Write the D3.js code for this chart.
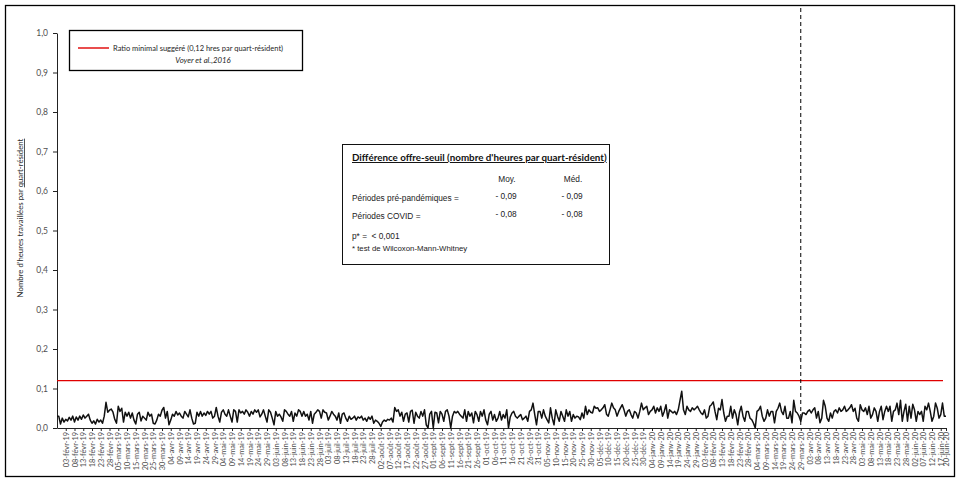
<!DOCTYPE html>
<html>
<head>
<meta charset="utf-8">
<script src="https://cdn.jsdelivr.net/npm/d3@7"></script>
<style>
  body { margin: 0; background: #fff; }
  svg { display: block; }
</style>
</head>
<body>
<svg id="chart" width="959" height="480"></svg>
<script>
// ---- Data ----------------------------------------------------------------
const firstDay = "2019-01-29";          // first daily observation
const covidStartDay = "2020-03-29";     // start of the COVID period (dashed marker)
const firstLabelDay = "2019-02-03";     // first labelled date on the x axis
const labelEveryDays = 5;
const yTickValues = [0, 0.1, 0.2, 0.3, 0.4, 0.5, 0.6, 0.7, 0.8, 0.9, 1.0];
const minimalRatio = 0.12;              // suggested minimum (hours per shift-resident)

// Daily hours worked per shift-resident, pre-pandemic period (29-janv-19 .. 28-mars-20)
const preValues = [
  0.030,
  0.030, 0.010, 0.025, 0.015, 0.022, 0.018, 0.027, 0.020, 0.030, 0.015,
  0.028, 0.020, 0.030, 0.022, 0.033, 0.025, 0.030, 0.035, 0.020, 0.012,
  0.018, 0.010, 0.022, 0.015, 0.020, 0.012, 0.030, 0.065, 0.040, 0.045,
  0.048, 0.040, 0.022, 0.012, 0.055, 0.042, 0.050, 0.015, 0.040, 0.030,
  0.040, 0.025, 0.038, 0.020, 0.010, 0.035, 0.040, 0.018, 0.030, 0.025,
  0.020, 0.040, 0.030, 0.035, 0.012, 0.010, 0.020, 0.035, 0.030, 0.045, 0.052,
  0.025, 0.042, 0.008, 0.020, 0.035, 0.030, 0.042, 0.033, 0.038, 0.030,
  0.025, 0.042, 0.035, 0.028, 0.046, 0.025, 0.010, 0.012, 0.040, 0.030,
  0.042, 0.030, 0.038, 0.032, 0.042, 0.035, 0.042, 0.025, 0.030, 0.052,
  0.030, 0.015, 0.040, 0.046, 0.035, 0.030, 0.046, 0.030, 0.015, 0.046,
  0.042, 0.015, 0.046, 0.038, 0.042, 0.035, 0.046, 0.040, 0.030, 0.042,
  0.035, 0.046, 0.040, 0.046, 0.028, 0.035, 0.046, 0.030, 0.015, 0.046,
  0.040, 0.025, 0.008, 0.042, 0.030, 0.035, 0.028, 0.017, 0.046, 0.042,
  0.035, 0.030, 0.042, 0.017, 0.038, 0.030, 0.046, 0.042, 0.030, 0.042,
  0.030, 0.035, 0.020, 0.042, 0.012, 0.035, 0.040, 0.046, 0.042, 0.025,
  0.046, 0.040, 0.038, 0.020, 0.030, 0.042, 0.035, 0.030, 0.020, 0.038,
  0.012, 0.035, 0.038, 0.025, 0.017, 0.030, 0.022, 0.025, 0.030, 0.020, 0.028,
  0.025, 0.030, 0.020, 0.025, 0.017, 0.028, 0.022, 0.030, 0.012, 0.020,
  0.017, 0.012, 0.004, 0.015, 0.020, 0.017, 0.022, 0.020, 0.025, 0.015,
  0.052, 0.042, 0.046, 0.030, 0.040, 0.017, 0.035, 0.038, 0.015, 0.042,
  0.045, 0.012, 0.040, 0.030, 0.025, 0.042, 0.030, 0.046, 0.008, 0.000,
  0.035, 0.042, 0.000, 0.040, 0.038, 0.013, 0.042, 0.035, 0.017, 0.042,
  0.046, 0.030, 0.000, 0.030, 0.042, 0.038, 0.042, 0.035, 0.030, 0.025,
  0.046, 0.017, 0.042, 0.030, 0.038, 0.013, 0.042, 0.034, 0.017, 0.042,
  0.030, 0.046, 0.020, 0.008, 0.035, 0.042, 0.020, 0.034, 0.017, 0.025,
  0.042, 0.020, 0.034, 0.025, 0.046, 0.000, 0.028, 0.038, 0.042, 0.030,
  0.025, 0.030, 0.034, 0.021, 0.025, 0.030, 0.017, 0.042, 0.046, 0.063,
  0.034, 0.008, 0.042, 0.042, 0.025, 0.046, 0.030, 0.021, 0.013, 0.051, 0.025,
  0.008, 0.046, 0.030, 0.017, 0.042, 0.030, 0.017, 0.046, 0.030, 0.042,
  0.017, 0.034, 0.025, 0.030, 0.028, 0.021, 0.038, 0.025, 0.055, 0.034,
  0.046, 0.040, 0.038, 0.055, 0.050, 0.051, 0.042, 0.046, 0.051, 0.059,
  0.035, 0.030, 0.046, 0.063, 0.051, 0.046, 0.030, 0.042, 0.051, 0.059,
  0.046, 0.030, 0.042, 0.046, 0.034, 0.025, 0.042, 0.038, 0.025, 0.042,
  0.063, 0.046, 0.051, 0.055, 0.034, 0.042, 0.046, 0.055, 0.038, 0.051,
  0.042, 0.055, 0.030, 0.042, 0.059, 0.025, 0.046, 0.042, 0.038, 0.042,
  0.034, 0.046, 0.070, 0.093, 0.046, 0.034, 0.055, 0.046, 0.042, 0.051,
  0.046, 0.050, 0.055, 0.046, 0.038, 0.034, 0.046, 0.025, 0.030, 0.055,
  0.059, 0.066, 0.042, 0.021, 0.050, 0.046, 0.072, 0.038, 0.017, 0.030,
  0.030, 0.055, 0.025, 0.046, 0.034, 0.008, 0.040, 0.055, 0.030, 0.017, 0.042,
  0.042, 0.025, 0.021, 0.012, 0.000, 0.042, 0.046, 0.055, 0.030, 0.017,
  0.025, 0.046, 0.030, 0.042, 0.042, 0.013, 0.042, 0.050, 0.063, 0.042,
  0.034, 0.055, 0.025, 0.025, 0.042, 0.013, 0.070, 0.042, 0.038, 0.030
];

// Daily hours worked per shift-resident, COVID period (29-mars-20 .. 20-juin-20)
const covidValues = [
  0.017, 0.038, 0.038, 0.034, 0.042, 0.046, 0.038, 0.046, 0.051, 0.025,
  0.042, 0.013, 0.025, 0.070, 0.055, 0.025, 0.017, 0.038, 0.025, 0.042,
  0.046, 0.038, 0.051, 0.042, 0.046, 0.055, 0.042, 0.046, 0.051, 0.059,
  0.042, 0.050, 0.025, 0.017, 0.059, 0.046, 0.042, 0.051, 0.034, 0.055,
  0.025, 0.034, 0.051, 0.042, 0.017, 0.042, 0.055, 0.021, 0.042, 0.055,
  0.042, 0.055, 0.017, 0.042, 0.046, 0.063, 0.034, 0.070, 0.017, 0.042,
  0.060, 0.017, 0.055, 0.025, 0.060, 0.046, 0.017, 0.042, 0.034, 0.042,
  0.017, 0.055, 0.046, 0.063, 0.042, 0.017, 0.030, 0.063, 0.050, 0.025,
  0.034, 0.063, 0.030, 0.030
];

const legendLines = ["Ratio minimal suggéré (0,12 hres par quart-résident)", "Voyer et al.,2016"];
const statsTitle = "Différence offre-seuil (nombre d'heures par quart-résident)";
const statsHeaders = ["Moy.", "Méd."];
const statsRows = [
  ["Périodes pré-pandémiques =", "- 0,09", "- 0,09"],
  ["Périodes COVID =", "- 0,08", "- 0,08"]
];
const statsNotes = ["p* =\u00a0\u00a0< 0,001", "* test de Wilcoxon-Mann-Whitney"];
const yTitle = ["Nombre d'heures travaillées par ", "quart-résident"];

// ---- Setup -----------------------------------------------------------------
const fr = d3.timeFormatLocale({
  dateTime: "%A %e %B %Y à %X", date: "%d/%m/%Y", time: "%H:%M:%S",
  periods: ["AM", "PM"],
  days: ["dimanche","lundi","mardi","mercredi","jeudi","vendredi","samedi"],
  shortDays: ["dim","lun","mar","mer","jeu","ven","sam"],
  months: ["janvier","février","mars","avril","mai","juin","juillet","août","septembre","octobre","novembre","décembre"],
  shortMonths: ["janv","févr","mars","avr","mai","juin","juil","août","sept","oct","nov","déc"]
});
const fmtDay = fr.utcFormat("%d-%b-%y");
const parseDay = d3.utcParse("%Y-%m-%d");

const allValues = preValues.concat(covidValues);
const start = parseDay(firstDay);
const series = allValues.map((v, i) => ({ date: d3.utcDay.offset(start, i), value: v }));
const lastDate = series[series.length - 1].date;

const labelDates = d3.utcDay.every(1).range(parseDay(firstLabelDay), d3.utcDay.offset(lastDate, 1))
  .filter((d, i) => i % labelEveryDays === 0);
if (+labelDates[labelDates.length - 1] !== +lastDate) labelDates.push(lastDate);

const svg = d3.select("#chart");
const plot = { left: 57, right: 946, top: 33, bottom: 428 };

const x = d3.scaleUtc().domain([start, lastDate]).range([plot.left, plot.right]);
const y = d3.scaleLinear().domain([0, 1]).range([plot.bottom, plot.top]);

const labelFont = "Lato, 'Open Sans', sans-serif";
const boxFont = "'Liberation Sans', Arial, sans-serif";

// outer frame
svg.append("rect")
  .attr("x", 5.5).attr("y", 5.5).attr("width", 949).attr("height", 471)
  .attr("fill", "none").attr("stroke", "#000").attr("stroke-width", 1.3);

// ---- Axes ------------------------------------------------------------------
const yAxis = svg.append("g")
  .attr("transform", `translate(${plot.left},0)`)
  .call(d3.axisLeft(y).tickValues(yTickValues).tickSize(4).tickSizeOuter(0).tickPadding(5)
    .tickFormat(d => d3.format(".1f")(d).replace(".", ",")));
yAxis.select(".domain").attr("stroke", "#222").attr("stroke-width", 1);
yAxis.selectAll(".tick line").attr("stroke", "#222");
yAxis.selectAll("text").attr("font-family", labelFont).attr("font-size", 8.5).attr("fill", "#505050");

const xAxis = svg.append("g")
  .attr("transform", `translate(0,${plot.bottom})`)
  .call(d3.axisBottom(x).tickValues(labelDates).tickSize(3).tickSizeOuter(0).tickFormat(fmtDay));
xAxis.select(".domain").attr("stroke", "#222").attr("stroke-width", 1);
xAxis.selectAll(".tick line").attr("stroke", "#222");
xAxis.selectAll("text")
  .attr("font-family", labelFont).attr("font-size", 7.4).attr("fill", "#505050")
  .attr("transform", "rotate(-90)")
  .attr("text-anchor", "end")
  .attr("x", -4).attr("y", 0).attr("dy", "0.35em");

// y axis title
const yt = svg.append("text")
  .attr("transform", "translate(23,218) rotate(-90)")
  .attr("text-anchor", "middle")
  .attr("font-family", labelFont).attr("font-size", 7.8).attr("fill", "#262626");
yt.append("tspan").text(yTitle[0]);
yt.append("tspan").attr("text-decoration", "underline").text(yTitle[1]);

// ---- Marks -----------------------------------------------------------------
svg.append("line")
  .attr("x1", plot.left).attr("x2", 943)
  .attr("y1", y(minimalRatio)).attr("y2", y(minimalRatio))
  .attr("stroke", "#e00000").attr("stroke-width", 1.4);

svg.append("line")
  .attr("x1", x(parseDay(covidStartDay))).attr("x2", x(parseDay(covidStartDay)))
  .attr("y1", 8).attr("y2", plot.bottom)
  .attr("stroke", "#000").attr("stroke-width", 1).attr("stroke-dasharray", "4,3");

svg.append("path")
  .datum(series)
  .attr("fill", "none").attr("stroke", "#111").attr("stroke-width", 1.5)
  .attr("stroke-linejoin", "round")
  .attr("d", d3.line().x(d => x(d.date)).y(d => y(d.value)));

// ---- Legend box ------------------------------------------------------------
svg.append("rect").attr("x", 69.5).attr("y", 30.5).attr("width", 233).attr("height", 40)
  .attr("fill", "#fff").attr("stroke", "#000").attr("stroke-width", 1.3);
svg.append("line").attr("x1", 78).attr("x2", 109).attr("y1", 48).attr("y2", 48)
  .attr("stroke", "#e00000").attr("stroke-width", 1.4);
svg.append("text").attr("x", 113).attr("y", 51)
  .attr("font-family", labelFont).attr("font-size", 7.5).attr("fill", "#262626")
  .text(legendLines[0]);
svg.append("text").attr("x", 203).attr("y", 63).attr("text-anchor", "middle")
  .attr("font-family", labelFont).attr("font-size", 7.8).attr("font-style", "italic").attr("fill", "#262626")
  .text(legendLines[1]);

// ---- Statistics box --------------------------------------------------------
const sb = svg.append("g");
sb.append("rect").attr("x", 342.5).attr("y", 144.5).attr("width", 267).attr("height", 120)
  .attr("fill", "#fff").attr("stroke", "#111").attr("stroke-width", 1);
sb.append("text").attr("x", 352).attr("y", 161)
  .attr("font-family", labelFont).attr("font-size", 9.8).attr("font-weight", "bold")
  .attr("text-decoration", "underline").attr("fill", "#111")
  .text(statsTitle);
const colX = [507, 573];
statsHeaders.forEach((h, i) => sb.append("text").attr("x", colX[i]).attr("y", 182)
  .attr("text-anchor", "middle").attr("font-family", boxFont).attr("font-size", 8.3).attr("fill", "#222").text(h));
statsRows.forEach((r, ri) => {
  const yy = 201 + ri * 17.7;
  sb.append("text").attr("x", 352).attr("y", yy)
    .attr("font-family", boxFont).attr("font-size", 8.3).attr("fill", "#222").text(r[0]);
  [r[1], r[2]].forEach((v, ci) => sb.append("text").attr("x", colX[ci] - 1).attr("y", yy - 2)
    .attr("text-anchor", "middle").attr("font-family", boxFont).attr("font-size", 8.3).attr("fill", "#222").text(v));
});
sb.append("text").attr("x", 352).attr("y", 239)
  .attr("font-family", boxFont).attr("font-size", 8.3).attr("fill", "#222").text(statsNotes[0]);
sb.append("text").attr("x", 352).attr("y", 251)
  .attr("font-family", boxFont).attr("font-size", 7.8).attr("fill", "#222").text(statsNotes[1]);
</script>
</body>
</html>
